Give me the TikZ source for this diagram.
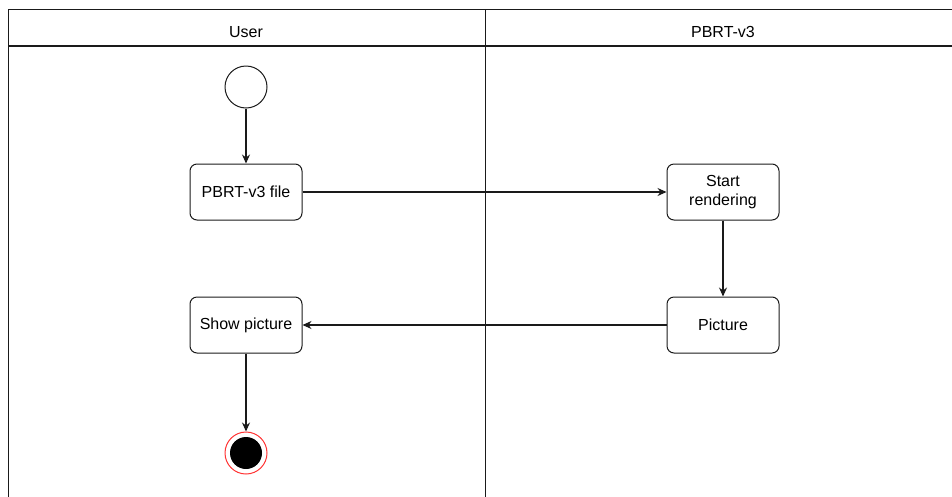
\documentclass[tikz,border=0pt]{standalone}
\usepackage{fontspec}
\setmainfont{Liberation Sans}
\usepackage{tikz}
\usetikzlibrary{arrows.meta,positioning}
\definecolor{swline}{HTML}{1A1A1A}
\definecolor{swred}{HTML}{FF3333}

\begin{document}
\begin{tikzpicture}[x=1pt,y=-1pt,
  actbox/.style={draw=swline,line width=1pt,rounded corners=7pt,minimum width=112pt,
    minimum height=56pt,align=center,font=\fontsize{16}{19}\selectfont},
  flow/.style={draw=swline,line width=1.1pt,-{Stealth[length=9pt,width=8pt]}},
  lane/.style={font=\fontsize{16}{19}\selectfont}]
\useasboundingbox (0,0) rectangle (952,496);
% swimlanes
\draw[swline,line width=1pt] (8,500) -- (8,9) -- (960,9);
\draw[swline,line width=1.6pt] (8,46) -- (960,46);
\draw[swline,line width=1pt] (485,9) -- (485,500);
\node[lane] (user) at (246,32) {User};
\node[lane] (pbrt) at (723,32) {PBRT-v3};
% nodes
\node[draw=swline,line width=1pt,circle,minimum size=42pt,inner sep=0pt] (init) at (246,87) {};
\node[actbox] (file) at (246,192) {PBRT-v3 file};
\node[actbox] (render) at (723,192) {Start\\rendering};
\node[actbox] (pic) at (723,325) {Picture};
\node[actbox] (show) at (246,325) {Show picture};
\node[draw=swred,line width=1pt,circle,minimum size=42pt,inner sep=0pt] (final) at (246,453) {};
\node[fill=black,circle,minimum size=32pt,inner sep=0pt] at (final) {};
% flows
\draw[flow] (init) -- (file);
\draw[flow] (file) -- (render);
\draw[flow] (render) -- (pic);
\draw[flow] (pic) -- (show);
\draw[flow] (show) -- (final);
\end{tikzpicture}
\end{document}
